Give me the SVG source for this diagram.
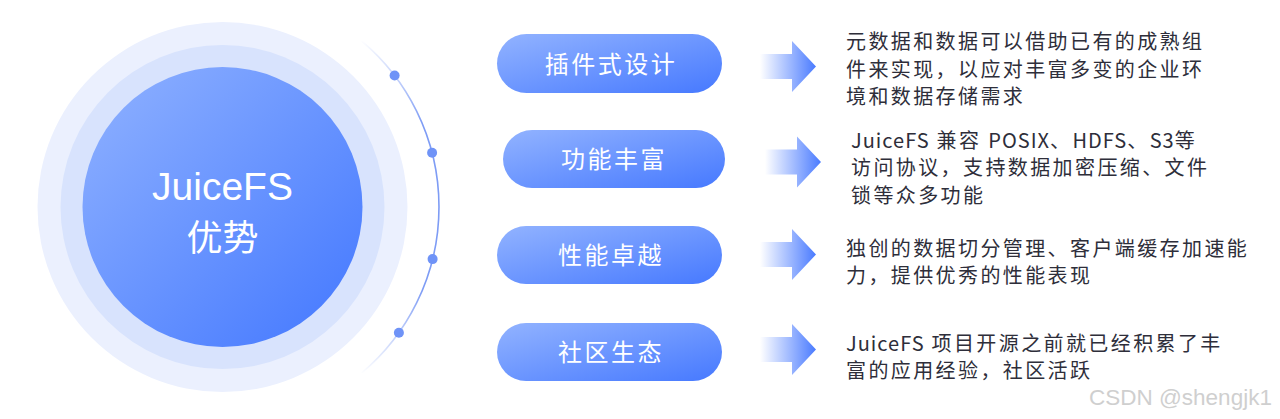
<svg xmlns="http://www.w3.org/2000/svg" width="1280" height="419" viewBox="0 0 1280 419">
<defs>
<linearGradient id="gCore" x1="0" y1="0" x2="1" y2="1">
<stop offset="0" stop-color="#90B2FF"/>
<stop offset="1" stop-color="#4277FF"/>
</linearGradient>
<linearGradient id="gPill" x1="0" y1="0" x2="1" y2="1">
<stop offset="0" stop-color="#92B3FF"/>
<stop offset="1" stop-color="#4679FF"/>
</linearGradient>
<linearGradient id="gArrow" x1="0" y1="0" x2="1" y2="0">
<stop offset="0" stop-color="#4A7BFF" stop-opacity="0"/>
<stop offset="1" stop-color="#4A7BFF" stop-opacity="1"/>
</linearGradient>
<linearGradient id="gArc" gradientUnits="userSpaceOnUse" x1="0" y1="40" x2="0" y2="374">
<stop offset="0" stop-color="#7E9CF5" stop-opacity="0"/>
<stop offset="0.25" stop-color="#7E9CF5" stop-opacity="1"/>
<stop offset="0.75" stop-color="#7E9CF5" stop-opacity="1"/>
<stop offset="1" stop-color="#7E9CF5" stop-opacity="0"/>
</linearGradient>
<path id="arrowShape" d="M0 -12.5 H32 V-25.5 L56 0 L32 25.5 V12.5 H0 Z"/>
</defs>
<style>
.cn{font-family:"Noto Sans CJK SC","Noto Sans",sans-serif;}
.pill{fill:url(#gPill);}
.pillt{font-size:24px;fill:#ffffff;text-anchor:middle;letter-spacing:2.5px;}
.desc{font-size:20px;fill:#2E2E3A;letter-spacing:2.4px;}
.lat{letter-spacing:1px;}
.dot{fill:#6F93F7;}
.arr{fill:url(#gArrow);}
</style>
<rect width="1280" height="419" fill="#ffffff"/>

<g id="center">
<circle cx="222.5" cy="207" r="185" fill="#EBF0FE"/>
<circle cx="222.5" cy="207" r="162" fill="#D8E3FD"/>
<circle cx="222.5" cy="207" r="140" fill="url(#gCore)"/>
<text x="222.5" y="200" font-family="Liberation Sans, Arial, sans-serif" font-size="39" fill="#ffffff" text-anchor="middle">JuiceFS</text>
<text class="cn" x="222.5" y="250.5" font-size="36" fill="#ffffff" text-anchor="middle">优势</text>
</g>

<g id="connectors">
<path d="M361.5 40.8 A217 217 0 0 1 361.5 373.2" fill="none" stroke="url(#gArc)" stroke-width="1.6"/>
<circle class="dot" cx="394.6" cy="75.5" r="5"/>
<circle class="dot" cx="432.1" cy="152.7" r="5"/>
<circle class="dot" cx="432.6" cy="259.1" r="5"/>
<circle class="dot" cx="398.9" cy="332.7" r="5"/>
<use href="#arrowShape" class="arr" x="760" y="66.5"/>
<use href="#arrowShape" class="arr" x="765" y="162"/>
<use href="#arrowShape" class="arr" x="760" y="254.5"/>
<use href="#arrowShape" class="arr" x="760" y="349.5"/>
</g>

<g id="n1">
<rect class="pill" x="497" y="34" width="225" height="59" rx="29.5"/>
<text class="cn pillt" x="611" y="73">插件式设计</text>
<text class="cn desc" x="846" y="48.5">元数据和数据可以借助已有的成熟组</text>
<text class="cn desc" x="846" y="76.5">件来实现，以应对丰富多变的企业环</text>
<text class="cn desc" x="846" y="103.5">境和数据存储需求</text>
</g>

<g id="n2">
<rect class="pill" x="503" y="130" width="222" height="58" rx="29"/>
<text class="cn pillt" x="614" y="168">功能丰富</text>
<text class="cn desc" x="851" y="147.5"><tspan class="lat">JuiceFS</tspan> 兼容 <tspan class="lat">POSIX</tspan>、<tspan class="lat">HDFS</tspan>、<tspan class="lat">S3</tspan>等</text>
<text class="cn desc" x="851" y="174.5">访问协议，支持数据加密压缩、文件</text>
<text class="cn desc" x="851" y="202.5">锁等众多功能</text>
</g>

<g id="n3">
<rect class="pill" x="497" y="226" width="225" height="58" rx="29"/>
<text class="cn pillt" x="611" y="264">性能卓越</text>
<text class="cn desc" x="846" y="255.5">独创的数据切分管理、客户端缓存加速能</text>
<text class="cn desc" x="846" y="282.5">力，提供优秀的性能表现</text>
</g>

<g id="n4">
<rect class="pill" x="497" y="323" width="225" height="58" rx="29"/>
<text class="cn pillt" x="611" y="361">社区生态</text>
<text class="cn desc" x="846" y="350.5"><tspan class="lat">JuiceFS</tspan> 项目开源之前就已经积累了丰</text>
<text class="cn desc" x="846" y="377.5">富的应用经验，社区活跃</text>
</g>

<text x="1089" y="405" font-family="Liberation Sans, Arial, sans-serif" font-size="22.5" fill="#CFCFCF">CSDN @shengjk1</text>
</svg>
